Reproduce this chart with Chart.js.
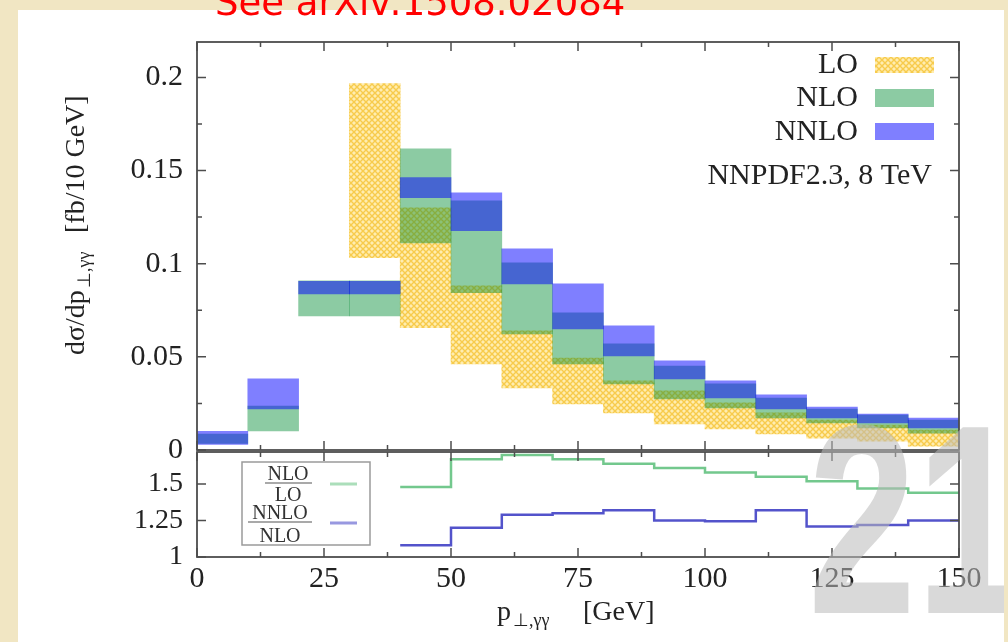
<!DOCTYPE html>
<html>
<head>
<meta charset="utf-8">
<title>Diphoton transverse momentum distribution</title>
<script src="https://cdn.jsdelivr.net/npm/chart.js@4/dist/chart.umd.min.js"></script>
<style>
  html, body { margin: 0; padding: 0; }
  body { width: 1008px; height: 642px; overflow: hidden; position: relative;
         background: #f1e6c3; }
  #sheet { position: absolute; left: 18px; top: 10px; width: 986px; height: 640px; background: #ffffff; }
  canvas { position: absolute; left: 0; top: 0; }
  #overlay { position: absolute; left: 0; top: 0; pointer-events: none; }
</style>
</head>
<body>
<div id="sheet"></div>
<canvas id="main" width="1008" height="642"></canvas>
<canvas id="ratio" width="1008" height="642"></canvas>
<svg id="overlay" width="1008" height="642" xmlns="http://www.w3.org/2000/svg">
  <defs><clipPath id="sheetClip"><rect x="18" y="10" width="986" height="632"/></clipPath></defs>
  <g font-family="Liberation Serif, serif" fill="#222">
    <g transform="translate(84,355) rotate(-90)" font-size="28">
      <text x="0" y="0">dσ/dp</text>
      <text x="67" y="6" font-size="18">⊥,γγ</text>
      <text x="122" y="0">[fb/10 GeV]</text>
    </g>
    <text x="497" y="620" font-size="28">p</text>
    <text x="513" y="626" font-size="18">⊥,γγ</text>
    <text x="583" y="620" font-size="28">[GeV]</text>
  </g>
  <text x="215" y="15" font-family="DejaVu Sans, sans-serif" font-size="37" fill="#ff0000">See arXiv:1508.02084</text>
  <g clip-path="url(#sheetClip)">
    <text transform="translate(808,613) scale(0.72,1)" font-family="Liberation Sans, sans-serif" font-weight="bold"
          font-size="270" fill="rgba(185,185,185,0.55)">21</text>
  </g>
</svg>
<script>
// 10 GeV bins in p_T of the photon pair
const binEdges = [0, 10, 20, 30, 40, 50, 60, 70, 80, 90, 100, 110, 120, 130, 140, 150];

// scale-variation bands, dsigma/dpT [fb / 10 GeV]
const loLow    = [null, null, null, 0.1032, 0.0656, 0.0462, 0.0333, 0.0247, 0.0199, 0.0140, 0.0113, 0.0086, 0.0064, 0.0048, 0.0021];
const loHigh   = [null, null, null, 0.1967, 0.1300, 0.0881, 0.0639, 0.0494, 0.0371, 0.0317, 0.0253, 0.0199, 0.0161, 0.0134, 0.0107];
const nloLow   = [0.0035, 0.0102, 0.0720, 0.0720, 0.1112, 0.0844, 0.0623, 0.0462, 0.0355, 0.0274, 0.0226, 0.0172, 0.0145, 0.0118, 0.0091];
const nloHigh  = [0.0085, 0.0236, 0.0908, 0.0908, 0.1617, 0.1338, 0.1005, 0.0736, 0.0570, 0.0451, 0.0355, 0.0279, 0.0220, 0.0188, 0.0161];
const nnloLow  = [0.0030, 0.0220, 0.0838, 0.0838, 0.1354, 0.1177, 0.0892, 0.0650, 0.0505, 0.0382, 0.0279, 0.0220, 0.0172, 0.0145, 0.0118];
const nnloHigh = [0.0100, 0.0382, 0.0905, 0.0905, 0.1462, 0.1381, 0.1080, 0.0892, 0.0666, 0.0478, 0.0371, 0.0296, 0.0231, 0.0193, 0.0172];

// K-factors shown in the lower panel
const ratioEdges  = [40, 50, 60, 70, 80, 90, 100, 110, 120, 130, 140, 150];
const nloOverLo   = [1.48, 1.67, 1.70, 1.67, 1.64, 1.61, 1.58, 1.55, 1.52, 1.47, 1.44];
const nnloOverNlo = [1.08, 1.20, 1.29, 1.30, 1.32, 1.25, 1.245, 1.32, 1.21, 1.22, 1.25];

// axis ticks
const xTicks        = [0, 25, 50, 75, 100, 125, 150];
const xTickLabels   = ['0', '25', '50', '75', '100', '125', '150'];
const xMinorTicks   = [12.5, 37.5, 62.5, 87.5, 112.5, 137.5];
const mainYTicks    = [0, 0.05, 0.1, 0.15, 0.2];
const mainYLabels   = ['0', '0.05', '0.1', '0.15', '0.2'];
const mainYMinor    = [0.025, 0.075, 0.125, 0.175];
const ratioYTicks   = [1, 1.25, 1.5];
const ratioYLabels  = ['1', '1.25', '1.5'];
const ratioYMinor   = [];

const orderLabels = ['LO', 'NLO', 'NNLO'];
const ratioLabels = [['NLO', 'LO'], ['NNLO', 'NLO']];
const setupLabel  = 'NNPDF2.3, 8 TeV';

const SERIF = '"Liberation Serif", serif';
Chart.defaults.font.family = SERIF;
Chart.defaults.color = '#222';

// yellow cross-hatch used for the LO band
function makeHatch() {
  const c = document.createElement('canvas');
  c.width = 6; c.height = 6;
  const g = c.getContext('2d');
  g.fillStyle = '#ffedb0';
  g.fillRect(0, 0, 6, 6);
  g.strokeStyle = '#f7cb4c';
  g.lineWidth = 1.4;
  g.beginPath();
  g.moveTo(0, 0); g.lineTo(6, 6);
  g.moveTo(6, 0); g.lineTo(0, 6);
  g.stroke();
  return g.createPattern(c, 'repeat');
}
const loFill   = makeHatch();
const nloFill  = 'rgba(0,140,50,0.45)';
const nnloFill = 'rgba(0,0,255,0.5)';
const nloLine  = 'rgba(40,170,80,0.65)';
const nnloLine = 'rgba(40,40,190,0.8)';

function band(low, high) {
  const out = [];
  for (let i = 0; i < low.length; i++) {
    if (low[i] === null) continue;
    out.push({ x: (binEdges[i] + binEdges[i + 1]) / 2, y: [low[i], high[i]] });
  }
  return out;
}
function steps(edges, vals) {
  const out = [];
  vals.forEach((v, i) => { out.push({ x: edges[i], y: v }); out.push({ x: edges[i + 1], y: v }); });
  return out;
}

// box frame with inward tick marks on all four sides
function frameTicks(id, yMajor, yMinor) {
  return {
    id,
    afterDatasetsDraw(chart) {
      const { ctx, chartArea: a } = chart;
      const xs = chart.scales.x, ys = chart.scales.y;
      ctx.save();
      ctx.strokeStyle = '#4d4d4d';
      ctx.lineWidth = 1.5;
      ctx.beginPath();
      const tickX = (v, len) => {
        const p = xs.getPixelForValue(v);
        ctx.moveTo(p, a.bottom); ctx.lineTo(p, a.bottom - len);
        ctx.moveTo(p, a.top); ctx.lineTo(p, a.top + len);
      };
      const tickY = (v, len) => {
        const p = ys.getPixelForValue(v);
        ctx.moveTo(a.left, p); ctx.lineTo(a.left + len, p);
        ctx.moveTo(a.right, p); ctx.lineTo(a.right - len, p);
      };
      xTicks.forEach(v => tickX(v, 9));
      xMinorTicks.forEach(v => tickX(v, 5));
      yMajor.forEach(v => tickY(v, 9));
      yMinor.forEach(v => tickY(v, 5));
      ctx.stroke();
      ctx.lineWidth = 1.8;
      ctx.strokeRect(a.left, a.top, a.right - a.left, a.bottom - a.top);
      ctx.restore();
    }
  };
}

// legend of the band panel: label on the left, swatch on the right
const bandLegend = {
  id: 'bandLegend',
  afterDatasetsDraw(chart) {
    const ctx = chart.ctx;
    const rows = [
      { label: orderLabels[0], base: 73, top: 57, h: 16 },
      { label: orderLabels[1], base: 106, top: 89, h: 18 },
      { label: orderLabels[2], base: 140, top: 123, h: 17 }
    ];
    ctx.save();
    ctx.font = '30px ' + SERIF;
    ctx.textAlign = 'right';
    ctx.textBaseline = 'alphabetic';
    rows.forEach(r => {
      const ds = chart.data.datasets.find(d => d.label === r.label);
      ctx.fillStyle = '#222';
      ctx.fillText(r.label, 858, r.base);
      ctx.fillStyle = ds.backgroundColor;
      ctx.fillRect(875, r.top, 59, r.h);
    });
    ctx.fillStyle = '#222';
    ctx.fillText(setupLabel, 932, 184);
    ctx.restore();
  }
};

// legend of the ratio panel: stacked fractions with line samples
const ratioLegend = {
  id: 'ratioLegend',
  afterDatasetsDraw(chart) {
    const ctx = chart.ctx;
    ctx.save();
    ctx.strokeStyle = '#9a9a9a';
    ctx.lineWidth = 1.5;
    ctx.strokeRect(242, 462, 128, 83);
    ctx.font = '20px ' + SERIF;
    ctx.fillStyle = '#333';
    ctx.textAlign = 'center';
    ctx.textBaseline = 'alphabetic';
    const fr = [
      { cx: 288, num: 480, bar: 483, den: 501, x0: 265, x1: 312, color: nloLine, sy: 484 },
      { cx: 280, num: 519, bar: 522, den: 542, x0: 248, x1: 312, color: nnloLine, sy: 523 }
    ];
    fr.forEach((f, i) => {
      ctx.fillText(ratioLabels[i][0], f.cx, f.num);
      ctx.fillText(ratioLabels[i][1], f.cx, f.den);
      ctx.strokeStyle = '#555';
      ctx.lineWidth = 1.2;
      ctx.beginPath(); ctx.moveTo(f.x0, f.bar); ctx.lineTo(f.x1, f.bar); ctx.stroke();
      ctx.strokeStyle = f.color;
      ctx.globalAlpha = 0.6;
      ctx.lineWidth = 3;
      ctx.beginPath(); ctx.moveTo(330, f.sy); ctx.lineTo(357, f.sy); ctx.stroke();
      ctx.globalAlpha = 1;
    });
    ctx.restore();
  }
};

const noGrid = { display: false, drawTicks: false };

new Chart(document.getElementById('main'), {
  type: 'bar',
  data: {
    datasets: [
      { label: 'NNLO', data: band(nnloLow, nnloHigh), backgroundColor: nnloFill, order: 1 },
      { label: 'NLO',  data: band(nloLow, nloHigh),   backgroundColor: nloFill,  order: 2 },
      { label: 'LO',   data: band(loLow, loHigh),     backgroundColor: loFill,   order: 3 }
    ]
  },
  options: {
    responsive: false,
    animation: false,
    devicePixelRatio: 1,
    events: [],
    layout: { padding: { left: 0, right: 49, top: 42, bottom: 192 } },
    datasets: { bar: { grouped: false, categoryPercentage: 1, barPercentage: 1, borderWidth: 0 } },
    plugins: { legend: { display: false }, tooltip: { enabled: false } },
    scales: {
      x: { type: 'linear', min: 0, max: 150, offset: false, display: false, grid: noGrid },
      y: {
        min: 0, max: 0.219,
        afterFit(s) { s.width = 197; },
        afterBuildTicks(s) { s.ticks = mainYTicks.map(v => ({ value: v })); },
        ticks: { callback: (v, i) => mainYLabels[i], padding: 14, font: { size: 30 }, color: '#222' },
        grid: noGrid,
        border: { display: false }
      }
    }
  },
  plugins: [frameTicks('mainFrame', mainYTicks, mainYMinor), bandLegend]
});

new Chart(document.getElementById('ratio'), {
  type: 'line',
  data: {
    datasets: [
      { label: 'NLO/LO',   data: steps(ratioEdges, nloOverLo),   borderColor: nloLine,  borderWidth: 2.5 },
      { label: 'NNLO/NLO', data: steps(ratioEdges, nnloOverNlo), borderColor: nnloLine, borderWidth: 2.5 }
    ]
  },
  options: {
    responsive: false,
    animation: false,
    devicePixelRatio: 1,
    events: [],
    layout: { padding: { left: 0, right: 49, top: 452, bottom: 0 } },
    elements: { point: { radius: 0 }, line: { tension: 0 } },
    plugins: { legend: { display: false }, tooltip: { enabled: false } },
    scales: {
      x: {
        type: 'linear', min: 0, max: 150,
        afterFit(s) { s.height = 85; },
        afterBuildTicks(s) { s.ticks = xTicks.map(v => ({ value: v })); },
        ticks: { callback: (v, i) => xTickLabels[i], padding: 4, font: { size: 30 }, maxRotation: 0, autoSkip: false, color: '#222' },
        grid: noGrid,
        border: { display: false }
      },
      y: {
        min: 1, max: 1.72,
        afterFit(s) { s.width = 197; },
        afterBuildTicks(s) { s.ticks = ratioYTicks.map(v => ({ value: v })); },
        ticks: { callback: (v, i) => ratioYLabels[i], padding: 14, font: { size: 28 }, color: '#222' },
        grid: noGrid,
        border: { display: false }
      }
    }
  },
  plugins: [frameTicks('ratioFrame', ratioYTicks, ratioYMinor), ratioLegend]
});
</script>
</body>
</html>
